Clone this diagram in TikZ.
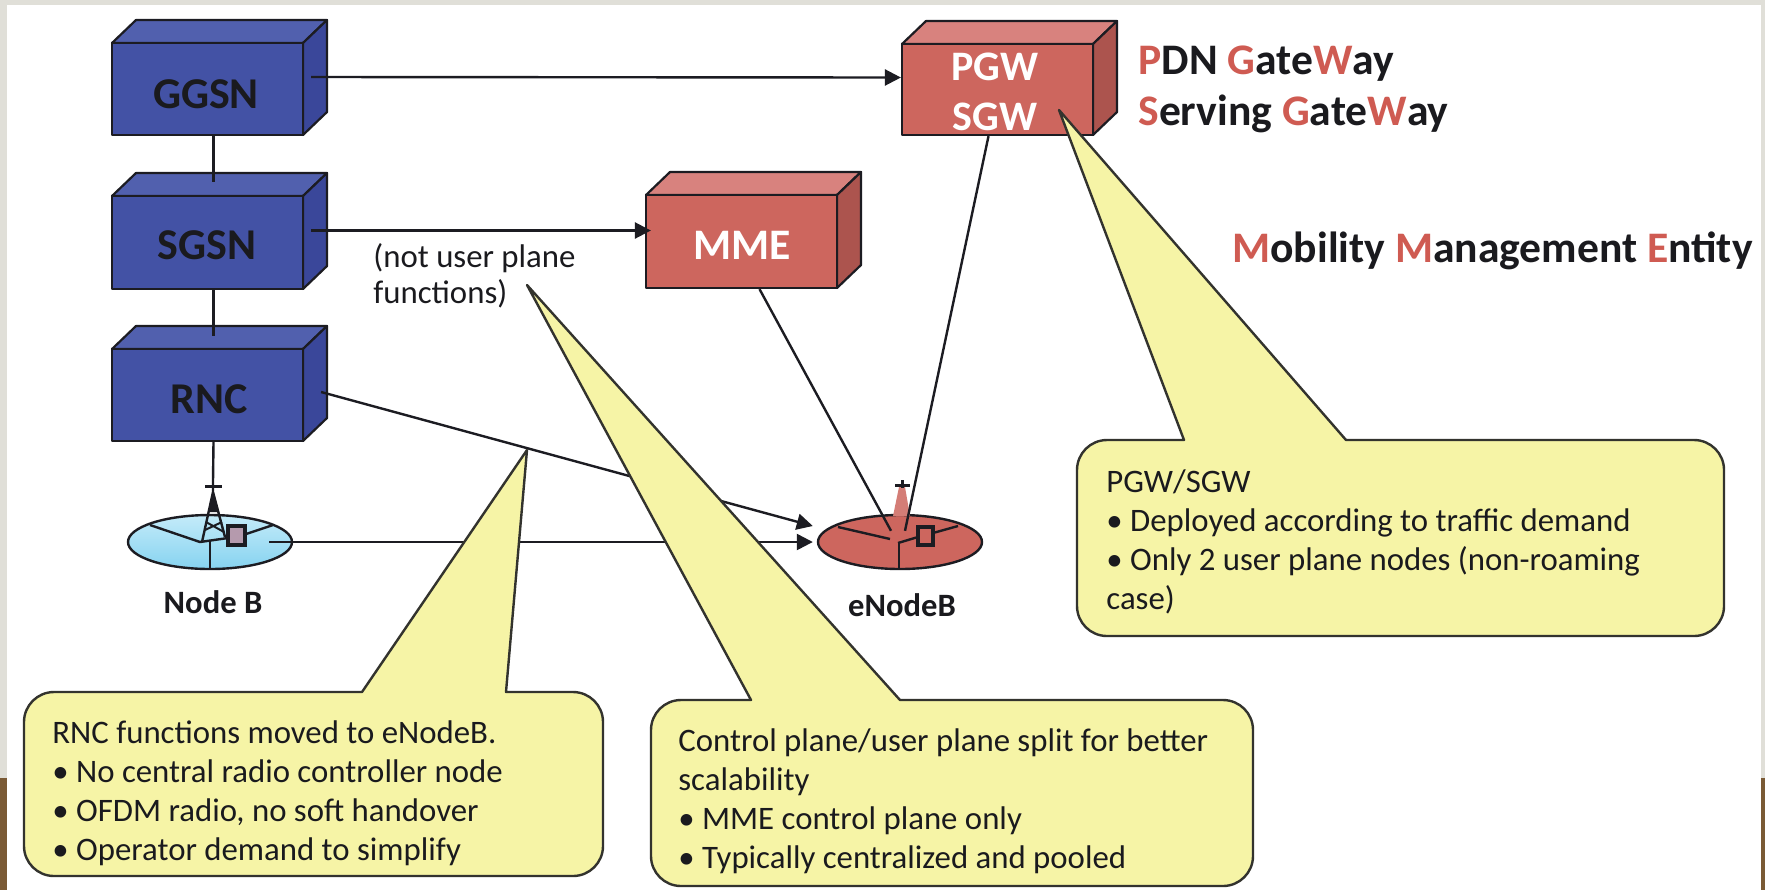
\documentclass[tikz,border=0pt]{standalone}
\usepackage{fontspec}
\setmainfont{Carlito}
\usetikzlibrary{arrows.meta,shapes.geometric}
\definecolor{edgeblack}{HTML}{1C1C22}
\definecolor{bluefront}{HTML}{4352A5}
\definecolor{bluetop}{HTML}{5160AE}
\definecolor{blueside}{HTML}{3A479A}
\definecolor{redfront}{HTML}{CD665E}
\definecolor{redtop}{HTML}{D8827E}
\definecolor{redside}{HTML}{AC544E}
\definecolor{calloutfill}{HTML}{F6F4A6}
\definecolor{calloutedge}{HTML}{33332E}
\definecolor{slidegrey}{HTML}{E0DFD8}
\definecolor{slidebrown}{HTML}{7A5A35}
\definecolor{titlered}{HTML}{CF5B52}
\definecolor{inktext}{HTML}{1A1A1E}
\definecolor{disctop}{HTML}{C4EBF9}
\definecolor{discbottom}{HTML}{86D3F0}
\definecolor{squarefill}{HTML}{B59AAD}
\tikzset{
  faceline/.style={draw=edgeblack,line width=1.1pt,line join=round},
  frontbox/.style={rectangle,inner sep=0pt,faceline},
  conn/.style={draw=edgeblack,line width=1.2pt},
  arrowconn/.style={conn,-{Triangle[length=8pt,width=8pt]}},
  darklabel/.style={font=\fontsize{22}{26}\selectfont\bfseries,text=inktext,inner sep=0pt},
  whitelabel/.style={font=\fontsize{21}{26}\selectfont\bfseries,text=white,inner sep=0pt},
  sitelabel/.style={font=\fontsize{16.3}{20}\selectfont\bfseries,text=inktext,inner sep=0pt},
  titletext/.style={font=\fontsize{21.8}{26}\selectfont\bfseries,text=inktext,inner sep=0pt,anchor=base west},
  bodytext/.style={font=\fontsize{16.4}{19.6}\selectfont,text=inktext,inner sep=0pt,align=left,anchor=north west},
  callout/.style={fill=calloutfill,draw=calloutedge,line width=1.2pt,line join=round},
  sitedisc/.style={ellipse,draw=edgeblack,line width=1.2pt,inner sep=0pt,minimum width=82pt,minimum height=27pt},
  discline/.style={draw=edgeblack,line width=1.2pt},
}
% name, x1, y1, x2, y2, colour prefix
\newcommand{\cuboidbox}[6]{%
  \fill[#6top,faceline] (#2,#3) -- (#2+24,#3-23) -- (#4+24,#3-23) -- (#4,#3) -- cycle;
  \fill[#6side,faceline] (#4,#3) -- (#4+24,#3-23) -- (#4+24,#5-23) -- (#4,#5) -- cycle;
  \pgfmathsetmacro{\cbw}{(#4-#2)*0.5}%
  \pgfmathsetmacro{\cbh}{(#5-#3)*0.5}%
  \node[frontbox,fill=#6front,minimum width=\cbw pt,minimum height=\cbh pt] (#1) at ({(#2+#4)/2},{(#3+#5)/2}) {};
}
% tip x,y; base x1,x2; box x1,y1,x2,y2
\newcommand{\calloutshape}[8]{%
  \path[callout,rounded corners=15pt] (#4,#6) -- (#7,#6) -- (#7,#8) -- (#5,#8) -- (#5,#6) [sharp corners] -- (#3,#6) -- (#1,#2) -- cycle;
}
\begin{document}
\begin{tikzpicture}[x=0.5pt,y=-0.5pt]
\useasboundingbox (0,0) rectangle (1765,890);
\fill[slidegrey] (0,0) rectangle (1765,890);
\fill[slidebrown] (0,778) rectangle (1765,890);
\fill[white] (7,5) rectangle (1761,890);

% boxes
\cuboidbox{ggsn}{112}{43}{303}{135}{blue}
\cuboidbox{sgsn}{112}{196}{303}{289}{blue}
\cuboidbox{rnc}{112}{349}{303}{441}{blue}
\cuboidbox{pgw}{902}{44}{1093}{135}{red}
\cuboidbox{mme}{646}{195}{837}{288}{red}
\node[darklabel] (ggsnlabel) at (206,94) {GGSN};
\node[darklabel] (sgsnlabel) at (207,245) {SGSN};
\node[darklabel] (rnclabel) at (209,399) {RNC};
\node[whitelabel] (pgwlabel) at (995,67) {PGW};
\node[whitelabel] (sgwlabel) at (995,117) {SGW};
\node[whitelabel,font=\fontsize{21.8}{26}\selectfont\bfseries] (mmelabel) at (742,245) {MME};

% Node B
\node[sitedisc,top color=disctop,bottom color=discbottom] (nodeb) at (210,542) {};
\draw[discline] (150,525) -- (200,542) -- (228,538);
\draw[discline] (210,541) -- (210,570);
\draw[discline] (273,525) -- (243,535);
\draw[edgeblack,line width=1.5pt] (205,486) -- (222,486);
\draw[edgeblack,line width=1.2pt] (213,482) -- (213,492) -- (202,542) (213,492) -- (225,537);
\draw[edgeblack,line width=1pt] (207,515) -- (220,515) (205,530) -- (222,522) (206,522) -- (224,532);
\fill[edgeblack] (213,490) -- (209,512) -- (218,512) -- cycle;
\draw[edgeblack,line width=1.6pt,fill=squarefill] (228,526) rectangle (245,545);
\node[sitelabel] (nodeblabel) at (213,602) {Node B};

% eNodeB
\node[sitedisc,fill=redfront] (enodeb) at (900,542) {};
\draw[discline] (838,527) -- (890,539);
\draw[discline] (898,543) -- (918,537);
\draw[discline] (899,543) -- (899,569);
\draw[discline] (958,526) -- (933,533);
\fill[redfront!85!white] (893,516) -- (899,487) -- (905,487) -- (910,516) -- cycle;
\draw[edgeblack,line width=1.5pt] (895,485) -- (910,485) (902,480) -- (902,488);
\draw[edgeblack,line width=1.6pt,fill=redfront] (918,527) rectangle (933,545);
\node[sitelabel] (enodeblabel) at (902,605) {eNodeB};

% connectors
\draw[arrowconn] ([xshift=3.5pt,yshift=6pt]ggsn.east) -- ([yshift=6pt]pgw.west);
\draw[arrowconn] ([xshift=3.5pt,yshift=6pt]sgsn.east) -- ([xshift=3pt,yshift=5.5pt]mme.west);
\draw[conn] ([xshift=3pt]ggsn.south) -- ([xshift=3pt,yshift=6.5pt]sgsn.north);
\draw[conn] ([xshift=3pt]sgsn.south) -- ([xshift=3pt,yshift=6pt]rnc.north);
\draw[conn] ([xshift=3pt]rnc.south) -- ([xshift=1.5pt,yshift=16pt]nodeb.north);
\draw[arrowconn] ([xshift=8.5pt,yshift=1.5pt]rnc.east) -- ([xshift=-2pt,yshift=8pt]enodeb.west);
\draw[arrowconn] ([xshift=-12pt]nodeb.east) -- ([xshift=-2pt]enodeb.west);
\draw[conn] ([xshift=9pt]mme.south) -- ([xshift=-4.5pt,yshift=-8.5pt]enodeb.north);
\draw[conn] ([xshift=-4.5pt]pgw.south) -- ([xshift=2.5pt,yshift=-8.5pt]enodeb.north);

% callouts
\calloutshape{1059}{110}{1184}{1346}{1077}{440}{1724}{636}
\calloutshape{527}{450}{362}{506}{24}{692}{603}{876}
\calloutshape{527}{285}{751}{900}{651}{700}{1253}{886}

% titles
\node[titletext] (pdn) at (1138,74) {\textcolor{titlered}{P}DN \textcolor{titlered}{G}ate\textcolor{titlered}{W}ay};
\node[titletext] (serving) at (1138,125) {\textcolor{titlered}{S}erving \textcolor{titlered}{G}ate\textcolor{titlered}{W}ay};
\node[titletext] (mobility) at (1232,262) {\textcolor{titlered}{M}obility \textcolor{titlered}{M}anagement \textcolor{titlered}{E}ntity};

% body text
\node[bodytext,font=\fontsize{16.4}{18.2}\selectfont] (notuser) at (373,243) {(not user plane\\functions)};
\node[bodytext] (pgwtext) at (1106,469) {PGW/SGW\\• Deployed according to traffic demand\\• Only 2 user plane nodes (non-roaming\\case)};
\node[bodytext] (rnctext) at (52,720) {RNC functions moved to eNodeB.\\• No central radio controller node\\• OFDM radio, no soft handover\\• Operator demand to simplify};
\node[bodytext] (midtext) at (678,728) {Control plane/user plane split for better\\scalability\\• MME control plane only\\• Typically centralized and pooled};
\end{tikzpicture}
\end{document}
